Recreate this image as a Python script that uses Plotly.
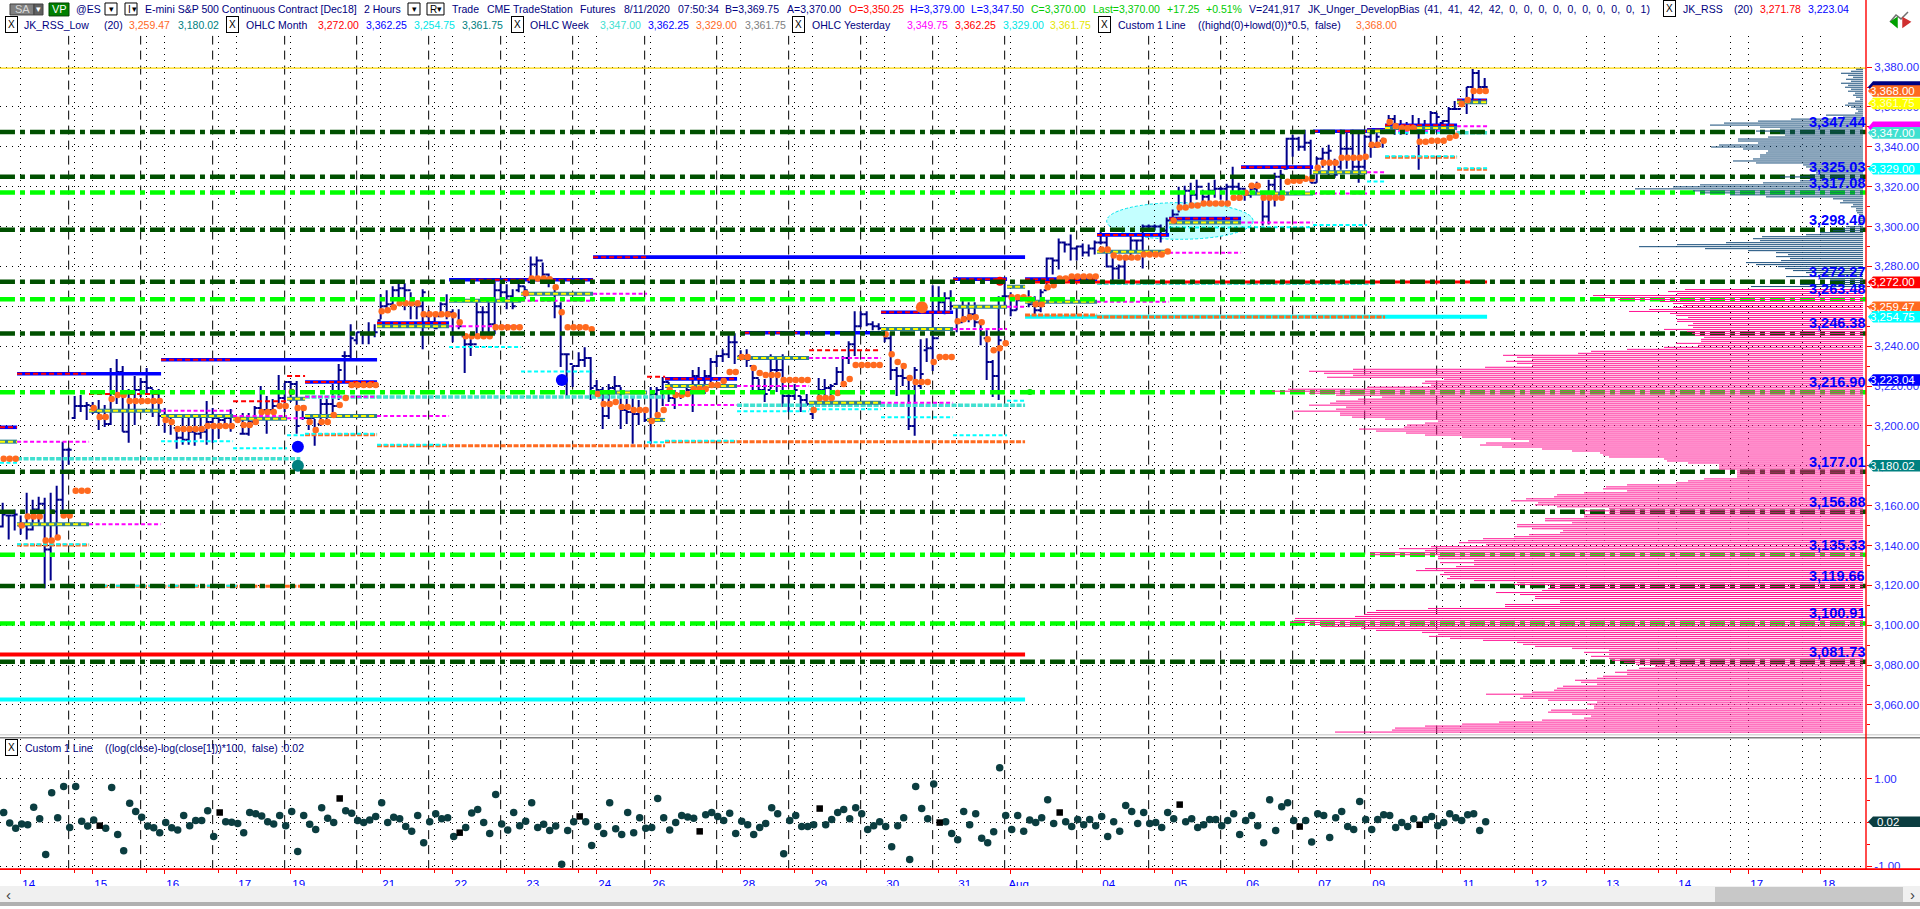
import plotly.graph_objects as go

W, H = 1920, 909
FONT = "Liberation Sans"

highs = [3161.5,3155.5,3158,3155,3166.5,3163,3164.5,3164,3166.5,3170,
 3192,3189,3215,3215.5,3212,3212,3213,3210.5,3229,3233.5,
 3230,3218.5,3225,3224,3229,3218.5,3218.5,3209,3204,3199.5,
 3204,3204.5,3204.5,3206,3212.5,3209,3206,3205,3208.5,3204.5,
 3206.5,3206.5,3210,3220,3215,3213.5,3225.5,3221.5,3222.5,3222.5,
 3210.5,3204.5,3203.5,3213.5,3213.5,3221,3231,3237.5,3251,3247,
 3247,3252,3251,3266,3268,3270,3271.5,3271.5,3267,3260,
 3268.5,3258,3257,3262,3266,3258.5,3258.5,3245,3243.5,3262,
 3260,3262,3272.5,3272,3271,3268.5,3273.5,3270,3285,3285,
 3282,3276.5,3270,3262,3236,3230,3237,3239.5,3234.5,3223,
 3219.5,3221,3225,3219.5,3213.5,3214.5,3213,3208.5,3219.5,3219.5,
 3224.5,3222,3218,3218,3219.5,3228,3229.5,3228,3234,3235.5,
 3238.5,3245.5,3246.5,3238,3238.5,3229.5,3223.5,3223.5,3236,3233.5,
 3236,3217,3221,3215,3216,3210,3224,3223.5,3221,3229.5,
 3235,3242.5,3257.5,3257.5,3257.5,3252.5,3251.5,3248,3247,3229.5,
 3230,3225,3229.5,3243.5,3244,3270.5,3270,3267,3268,3260,
 3263,3262,3262,3253,3248,3233,3265,3273.5,3267,3265,
 3265,3268,3265,3268.5,3284.5,3284.5,3294,3292.5,3296,3290,
 3291.5,3291,3293,3298,3295,3284.5,3281,3284.5,3295,3293.5,
 3301,3301,3301,3301,3304.5,3308.5,3320,3320.5,3322,3323.5,
 3318.5,3322,3323.5,3320,3321.5,3330,3322,3319.5,3319.5,3322.5,
 3317,3323.5,3327,3328.5,3344.5,3346,3345,3348.5,3343.5,3335,
 3339.5,3341,3334,3348.5,3347,3348.5,3347,3346,3347,3348,
 3344.5,3356,3356,3353.5,3352.5,3356,3354.5,3353.5,3358,3357,
 3353.5,3360,3363,3363.5,3370,3379,3378.5,3374.5]

lows = [3149,3143,3147.5,3145.5,3143,3147.5,3151,3118.5,3122.5,3144.5,
 3156,3180.5,3203.5,3207,3203,3206,3198,3199.5,3200.5,3211,
 3197,3191.5,3200.5,3214.5,3216,3204.5,3200,3196.5,3195.5,3188.5,
 3190.5,3190.5,3190,3193.5,3190.5,3191.5,3193.5,3200,3197,3202,
 3195.5,3195,3200.5,3204.5,3196,3206,3209.5,3207,3212,3196,
 3203,3198,3190,3200,3203,3207,3213,3222.5,3234,3241,
 3241,3241,3244.5,3253.5,3257,3260,3262,3258,3253.5,3253.5,
 3238.5,3250,3248.5,3255,3253.5,3242,3248.5,3226.5,3235,3244.5,
 3244.5,3247,3246,3263.5,3258.5,3258.5,3267,3263.5,3272,3273.5,
 3273.5,3269.5,3254,3229.5,3215,3219.5,3229.5,3229.5,3213,3214.5,
 3198.5,3203.5,3217,3198.5,3201,3191,3200.5,3202,3191,3203.5,
 3210,3212,3208.5,3213.5,3216,3207,3217,3216,3222,3229.5,
 3232,3234,3231,3233,3229.5,3217,3216,3212,3218.5,3217,
 3209.5,3207,3213,3207,3210,3203.5,3210,3214.5,3215.5,3220.5,
 3219.5,3231,3235,3249.5,3250,3248,3248,3242,3223,3215,
 3220,3198,3195,3218.5,3232,3227.5,3257,3256,3258,3247,
 3252,3252,3249.5,3240.5,3223,3214.5,3213,3260,3255,3258,
 3263,3259.5,3254.5,3257,3268.5,3276,3278.5,3287,3283,3283,
 3285,3285,3286,3291,3279.5,3273,3273.5,3271,3284.5,3287.5,
 3279,3298.5,3298,3292,3295,3303,3307,3311,3311,3313.5,
 3311,3311,3314.5,3313.5,3312,3317.5,3313,3313,3314.5,3317,
 3300.5,3301,3310,3315,3328.5,3335,3338,3338,3322,3322,
 3329.5,3325,3324.5,3328.5,3329,3328,3322,3328.5,3334.5,3339.5,
 3339.5,3348,3346,3346,3346,3348,3328.5,3348,3351,3347,
 3349.5,3351,3358.5,3360,3356.5,3363,3369.5,3368]

opens = [3149.5,3155,3155,3150,3150,3148,3158,3161,3138,3157,
 3163,3188,3204,3210,3210,3210,3207,3204,3201,3226,
 3227,3197,3217,3218,3222,3219,3212,3205,3205,3199,
 3194,3193,3197,3196,3197,3202,3204,3203,3204,3205,
 3196,3196,3202,3209,3208,3208,3210,3214,3222,3221,
 3204,3204,3204,3201,3211,3211,3210,3235,3235,3243,
 3247,3246,3246,3253,3260,3261,3268,3269,3268,3261,
 3260,3255,3252,3255,3261,3257,3246,3245,3241,3241,
 3257,3257,3251,3268,3267,3265,3268,3270,3272,3281,
 3283,3276,3272,3260,3236,3231,3230,3233,3234,3220,
 3218,3205,3219,3220,3208,3207,3206,3208,3203,3216,
 3218,3222,3214,3216,3216,3218,3225,3223,3225,3232,
 3235,3236,3242,3235,3235,3230,3224,3218,3218,3228,
 3228,3215,3215,3215,3213,3206,3210,3218,3219,3221,
 3227,3234,3241,3250,3256,3251,3250,3246,3244,3228,
 3225,3224,3200,3220,3238,3239,3244,3262,3264,3260,
 3252,3254,3256,3252,3244,3232,3225,3265,3265,3258,
 3263,3264,3261,3258,3268,3284,3283,3292,3291,3289,
 3290,3287,3289,3292,3292,3280,3279,3280,3284,3293,
 3293,3300,3300,3300,3298,3303,3306,3317,3318,3316,
 3320,3315,3318,3319,3319,3320,3320,3319,3316,3319,
 3317,3305,3321,3325,3329,3344,3344,3340,3342,3322,
 3334,3337,3332,3330,3339,3339,3330,3330,3345,3340,
 3343,3348,3354,3350,3350,3351,3349,3348,3350,3357,
 3352,3353,3359,3359,3362,3370,3377,3370]

closes = [3155.5,3155,3155.5,3150,3148,3158,3161,3138,3157.5,3163,
 3188,3188,3210,3210,3210.5,3207,3204,3201,3226,3227,
 3197,3217,3218,3222,3219,3212,3205,3205,3202,3194,
 3193,3197,3196,3197,3202,3204,3203,3204,3205,3203,
 3196,3202,3209,3208,3208,3210,3214,3222,3221,3200,
 3204,3204,3199,3211,3211,3210,3228,3235,3244,3247,
 3246,3246,3247,3260,3261,3268,3269,3268,3261,3260,
 3267,3252,3249,3261,3257,3246,3250,3241,3241,3257,
 3257,3251,3268,3267,3265,3260,3270,3268,3281,3283,
 3276,3272,3260,3236,3236,3230,3233,3234,3219,3218,
 3205,3219,3220,3208,3207,3206,3208,3203,3216,3218,
 3222,3214,3216,3216,3218,3225,3223,3225,3232,3235,
 3236,3242,3242,3235,3233,3224,3218,3216,3228,3228,
 3215,3215,3218,3213,3211,3208,3218,3219,3220,3227,
 3234,3241,3250,3256,3251,3250,3249,3244,3228,3225,
 3224,3200,3228,3226,3239,3244,3262,3264,3260,3252,
 3254.5,3256,3252,3246,3232,3225,3243,3265,3258,3263,
 3264,3261,3258,3267,3284,3283,3292,3291,3289,3290,
 3287,3289,3292,3292,3280,3279,3280,3284,3293,3293,
 3300,3300,3300,3298,3303,3306,3317,3318,3316,3320,
 3315,3318,3319,3319,3320,3320,3319,3316,3319,3320,
 3305,3321,3325,3326,3344,3344,3340,3342,3322,3334,
 3337,3338,3326,3339,3339,3330,3330,3345,3340,3345,
 3343,3354,3350,3350,3351,3349,3348,3350,3357,3355,
 3353,3359,3359,3362,3370,3377,3370,3370]

day_mid = [3183.5,3183.5,3183.5,3150,3154.5,3154.5,3154.5,3142.5,3142.5,3144,
 3155,3155,3167.5,3167.5,3167.5,3209,3204.5,3204.5,3213.5,3215.5,
 3215.5,3212.5,3212.5,3212.5,3212.5,3212.5,3212.5,3203,3202,3198.5,
 3198.5,3198.5,3198.5,3198.5,3200,3200,3200,3200,3200,3203,
 3200.5,3200.5,3202,3207,3207,3207,3210,3210,3217,3209,
 3209,3202,3198,3202,3202,3205.5,3210.5,3214,3220.5,3220.5,
 3220.5,3220.5,3220.5,3257.5,3258,3259.5,3261.5,3261.5,3261.5,3261.5,
 3256,3256,3256,3256,3256,3255.5,3252,3245,3245,3245,
 3245,3245,3249.5,3249.5,3249.5,3249.5,3249.5,3266.5,3274,3274,
 3274,3273.5,3269.5,3257,3249.5,3249.5,3249.5,3249.5,3248.5,3216,
 3211,3211,3212,3209.5,3209.5,3208,3208,3208,3202.5,3205.5,
 3208,3218,3215.5,3215.5,3216,3218.5,3218.5,3218.5,3220.5,3220.5,
 3222.5,3227,3227,3234.5,3234.5,3229,3226.5,3225.5,3225.5,3225.5,
 3223,3223,3223,3223,3223,3208,3214,3214,3214,3216.5,
 3221,3223.5,3230.5,3230.5,3230.5,3230.5,3230.5,3246,3236,3232,
 3230,3224,3222,3222,3222,3232,3234.5,3234.5,3234.5,3252.5,
 3253.5,3254.5,3254.5,3252,3243.5,3238,3239,3241.5,3264.5,3264.5,
 3264.5,3263.5,3261,3261,3269.5,3270.5,3274,3274,3275,3275,
 3275,3275,3275,3288.5,3288.5,3285.5,3284.5,3284.5,3284.5,3284.5,
 3286,3286,3286,3286,3287.5,3303,3309.5,3309.5,3310.5,3310.5,
 3311.5,3311.5,3311.5,3311.5,3311.5,3314.5,3314.5,3317,3320.5,3320.5,
 3314.5,3314.5,3314.5,3314.5,3322.5,3323,3323,3324,3324,3329.5,
 3332,3332,3332,3334.5,3334.5,3334.5,3334.5,3335,3341,3341,
 3343,3352.5,3350.5,3349.5,3349.5,3349.5,3342.5,3342.5,3343,3343,
 3343,3344.5,3345.5,3361.5,3363.5,3368,3368,3368]

log_change = [.23,-.01,-.13,-.03,-.05,.35,.09,-.73,.68,.11,
 .82,-.11,.82,.03,-.08,.06,-.07,-.13,.80,-.27,
 -.64,.44,.25,.12,-.08,-.12,-.23,0,-.12,-.17,
 .16,-.07,.05,.05,.27,-.32,.23,.02,.01,-.02,
 -.23,.23,.20,.15,.02,-.03,.16,-.07,.25,-.66,
 .16,-.04,-.16,.34,.10,0,.55,.27,.21,.05,
 0,.06,.14,.45,0,.12,.09,-.09,-.20,.16,
 -.46,.02,.20,.09,.11,-.32,-.23,-.11,.22,.30,
 0,-.25,.64,-.03,-.17,.23,-.07,.03,.45,-.11,
 -.04,-.18,-.08,-.95,-.18,.02,.14,.02,-.52,-.09,
 -.25,.45,-.14,-.27,.23,-.23,.11,-.13,-.11,.55,
 .11,-.17,0,.16,.13,.10,-.20,.18,.23,.14,
 .05,.21,-.25,.03,-.05,-.27,-.11,-.02,.34,.20,
 -.71,.05,.16,-.09,-.09,-.05,.32,-.05,.07,.23,
 .30,.09,.34,.20,-.16,-.07,.02,-.09,-.55,-.07,
 .11,-.84,.82,.32,.09,.88,0,.02,-.25,-.39,
 .25,-.05,.20,-.36,-.46,-.21,1.25,.16,-.16,.16,
 -.20,.06,0,.11,.52,-.02,.23,.02,-.09,.07,
 -.05,.07,-.07,.14,-.32,.02,-.20,.39,.25,-.02,
 .23,-.02,0,-.11,.23,.09,.41,.02,.09,-.11,
 -.05,.07,.07,-.07,.05,.20,-.27,.05,.16,-.07,
 -.46,.52,-.18,.36,.45,.05,-.09,.05,-.44,.20,
 .16,-.34,.11,.25,-.09,-.16,.48,.07,-.16,.07,
 .18,.16,-.11,0,-.09,.09,-.05,.07,.14,-.07,
 0,.20,.11,.05,.18,.20,-.18,.02]
square_bars = [16,36,56,76,96,116,136,156,176,196,216,236]

profile_blue_top = 3378.9
profile_blue = [7,12,22,15,10,17,12,22,15,18,12,15,8,10,7,3,8,15,18,12,7,5,8,
 37,20,72,105,139,153,103,83,107,83,78,95,125,125,105,144,152,120,95,97,103,103,110,
 130,107,60,57,53,50,47,53,83,53,63,100,163,190,228,170,163,133,97,30,20,23,10,12,
 7,7,6,4,4,4,4,3,5,17,20,30,43,57,101,110,103,137,186,224,158,115,87,75,87,73,82,
 117,107,85,78,70,57,43,77,43,33,20,63,112]
profile_pink_top = 3268.4
profile_pink = [178,195,186,270,263,245,203,190,180,
 190,214,234,193,187,175,186,186,170,175,170,199,176,171,168,159,162,162,187,165,
 199,236,272,285,360,346,331,357,346,331,378,510,554,539,510,536,419,438,441,432,
 496,575,591,554,527,481,505,527,533,554,517,527,569,523,523,511,478,425,438,456,
 459,504,487,457,438,401,352,334,377,383,361,321,291,263,260,254,199,196,175,144,
 144,144,126,126,126,126,159,175,187,236,257,260,236,279,306,309,337,352,325,328,
 306,254,279,254,279,279,318,318,291,346,346,331,300,303,334,349,380,395,404,377,
 432,464,438,493,493,425,425,389,423,389,407,438,447,419,423,413,416,389,346,349,
 312,315,321,367,343,328,
 328,303,303,358,358,435,487,496,499,508,568,569,573,554,542,502,487,441,425,434,
 413,380,346,340,328,291,254,279,254,272,254,251,239,227,208,224,236,248,236,260,
 266,288,282,266,300,306,309,331,377,340,343,315,266,276,269,269,312,315,291,272,
 279,321,364,401,438,468,471,528]

level_dark = [3347.44,3325.03,3298.40,3272.27,3246.38,3177.01,3156.88,3119.66,3081.73]
level_lime = [3317.08,3263.48,3216.90,3135.33,3100.91]

day_ticks = [3,15,27,39,48,63,75,87,99,108,123,135,147,159,168,183,195,207,219,228,243,255,267,279,291,303]
day_labels = ["14","15","16","17","19","21","22","23","24","26","28","29","30","31","Aug","04","05","06","07","09","11","12","13","14","17","18"]
half_ticks = [12,24,36,48,60,72,84,96,108,120,132,144,156,168,180,192,204,216,228,240,252,264,276,288,300]
session_lines = [11,23,35,47,59,71,83,95,107,119,131,143,155,167,179,191,203,215,227,239]

week_high = [(-.45,2.4,3199.3),(2.4,26.4,3226.15),(26.4,62.4,3233.15),(50.4,62.4,3222),(62.4,74.4,3251.65),
 (74.4,98.4,3273.3),(98.4,170.4,3284.65),(110.4,122.4,3223.6),(123.6,146.4,3246.7),(146.4,158.4,3257),
 (158.4,167.4,3273.6),(170.4,182.4,3273.6),(182.4,194.4,3295.8),(194.4,206.4,3304),(206.4,218.4,3329.8),
 (218.4,227.4,3347.8),(227.4,230.4,3348.5),(230.4,242.4,3350.8),(242.4,247.4,3363.3)]
red_marks = [(-.45,2.4,3199.3),(2.4,14.4,3226.15),(26.4,38.4,3233.15),(50.4,62.4,3222),(62.4,74.4,3251.65),
 (78,98.4,3273.3),(98.4,107.4,3284.65),(110.4,122.4,3223.6),(123.6,134.4,3246.7),(146.4,158.4,3257),
 (158.4,167.4,3273.6),(170.4,182.4,3273.6),(182.4,194.4,3295.8),(194.4,206.4,3304),(206.4,218.4,3329.8),
 (218.4,227.4,3347.8),(227.4,230.4,3348.5),(230.4,242.4,3350.8),(242.4,247.4,3363.3),
 (38.4,47.4,3212.3),(47.4,50.4,3225),(107.4,110.4,3224.6),(134.4,146.4,3238),(14.4,26.4,3216)]
close_marks = [(-.45,2.4,3192.1),(2.4,14.4,3150.6),(14.4,26.4,3207.6),(26.4,38.4,3205),(38.4,47.4,3203.6),
 (47.4,50.4,3213.6),(50.4,62.4,3205),(62.4,74.4,3250),(74.4,86.4,3262.8),(86.4,98.4,3266.3),
 (98.4,107.4,3216.8),(107.4,110.4,3203),(110.4,122.4,3220),(122.4,134.4,3234),(134.4,146.4,3211.6),
 (146.4,158.4,3248.6),(158.4,167.4,3259.8),(167.4,170.4,3269.8),(170.4,182.4,3262.3),(182.4,194.4,3287.3),
 (194.4,206.4,3302),(206.4,218.4,3316.6),(218.4,227.4,3327.3),(227.4,230.4,3347.8),(230.4,242.4,3349.5),(242.4,247.4,3362.3)]
magenta_marks = [(2.4,14.4,3192.1),(14.4,26.4,3150.6),(26.4,38.4,3207.6),(38.4,47.4,3205),(47.4,50.4,3203.8),
 (50.4,62.4,3214.6),(62.4,74.4,3205),(74.4,86.4,3250),(86.4,98.4,3262.8),(98.4,107.4,3266.3),
 (110.4,122.4,3210.5),(122.4,134.4,3220),(134.4,146.4,3234),(146.4,158.4,3211.6),(158.4,167.4,3248.6),
 (167.4,170.4,3259.8),(182.4,194.4,3262.3),(194.4,206.4,3286.8),(206.4,218.4,3302),(218.4,227.4,3316.6),
 (227.4,230.4,3327.3),(230.4,242.4,3347.8),(242.4,247.4,3350.3)]
cyan_marks = [(-.45,2.4,3181.5),(2.4,14.4,3140.6),(16.7,39,3119.8),(26.4,38.4,3192.3),(38.4,47.4,3188.8),(47.4,50.4,3195.3),
 (50.4,62.4,3196),(62.4,74.4,3190.5),(74.4,86.4,3239.6),(86.4,98.4,3227.3),(107.4,110.4,3191.8),(110.4,122.4,3192.5),
 (122.4,134.4,3207.3),(134.4,146.4,3208.3),(146.4,158.4,3204.3),(158.4,167.4,3195.3),(167.4,170.4,3212.6),
 (194.4,206.4,3299.5),(206.4,218.4,3299.6),(218.4,227.4,3300.8),(227.4,230.4,3322.6),(230.4,242.4,3335.3),
 (242.4,247.4,3329.3),(230.4,242.4,3347)]
orange_marks = [(2.4,14.4,3140.3),(16.7,49.6,3119.5),(50.4,62.4,3195.5),(62.4,110.4,3190),(110.4,170.4,3192),
 (170.4,182.4,3255.6),(182.4,230.4,3254.6),(230.4,242.4,3334.8),(242.4,247.4,3328.8)]
turquoise_marks = [(2.4,49.6,3183.5),(50.4,110.4,3214.5),(122.4,170.4,3210.3),(182.4,228.9,3271.6),(242.4,247.4,3347)]
thin_red = [(170.4,247.4,3272.2)]
cyan_thick = [(170.4,247.4,3254.75)]
red_long = [(-.45,170.4,3085.3)]
cyan_long = [(-.45,170.4,3062.8)]

event_bars = [49.2,49.2,93.2,153.2,166.2,48.2,171.2]
event_prices = [3189.5,3180,3223,3259.5,3272.5,3217,3217]
event_colors = ["#0000ff","#008080","#0000ff","#ff6a1f","#ff0000","#22bb22","#22bb22"]
event_sizes = [12,12,12,12,9,6,6]

ellipse_bars = [184,208.4]
ellipse_prices = [3293.6,3312]

price_ticks = list(range(3060,3381,20))
price_minor = list(range(3050,3381,10))
price_labels = ["" if p==3260 else f"{p:,.2f}" for p in price_ticks]

tag_values = [(3370,"#000080",""),(3368,"#ff6a1f","3,368.00"),(3361.75,"#ffff00","3,361.75"),(3349.75,"#ff00ff",""),
 (3347,"#40e0d0","3,347.00"),(3329,"#00ffff","3,329.00"),(3272,"#ff0000","3,272.00"),(3259.47,"#ff6a1f","3,259.47"),
 (3254.75,"#00ffff","3,254.75"),(3223.04,"#0000ff","3,223.04"),(3180.02,"#008080","3,180.02")]

NAVY="#000080"
row1 = [("@ES",75,NAVY),("E-mini S&P 500 Continuous Contract [Dec18]",144,NAVY),("2 Hours",363,NAVY),("Trade",451,NAVY),
 ("CME",486,NAVY),("TradeStation",512,NAVY),("Futures",579,NAVY),("8/11/2020",623,NAVY),("07:50:34",677,NAVY),
 ("B=3,369.75",724,NAVY),("A=3,370.00",786,NAVY),("O=3,350.25",848,"#ff0000"),("H=3,379.00",909,"#0000ff"),
 ("L=3,347.50",970,"#0000ff"),("C=3,370.00",1030,"#00cc00"),("Last=3,370.00",1092,"#00cc00"),("+17.25",1166,"#00cc00"),
 ("+0.51%",1205,"#00cc00"),("V=241,917",1248,NAVY),("JK_Unger_DevelopBias",1307,NAVY),
 ("(41,  41,  42,  42,  0,  0,  0,  0,  0,  0,  0,  0,  0,  1)",1423,NAVY),("JK_RSS",1682,NAVY),("(20)",1733,NAVY),
 ("3,271.78",1759,"#ff0000"),("3,223.04",1807,"#0000ff")]
row2 = [("JK_RSS_Low",23,NAVY),("(20)",103,NAVY),("3,259.47",128,"#ff6a1f"),("3,180.02",177,"#008080"),("OHLC Month",245,NAVY),
 ("3,272.00",317,"#ff0000"),("3,362.25",365,"#0000ff"),("3,254.75",413,"#00e5e5"),("3,361.75",461,"#008080"),
 ("OHLC Week",529,NAVY),("3,347.00",599,"#40e0d0"),("3,362.25",647,"#0000ff"),("3,329.00",695,"#ff6a1f"),("3,361.75",744,"#808080"),
 ("OHLC Yesterday",811,NAVY),("3,349.75",906,"#ff00ff"),("3,362.25",954,"#ff0000"),("3,329.00",1002,"#00e5e5"),("3,361.75",1049,"#e5e500"),
 ("Custom 1 Line",1117,NAVY),("((highd(0)+lowd(0))*0.5,  false)",1197,NAVY),("3,368.00",1355,"#ff6a1f")]
row3 = [("Custom 1 Line",24,NAVY),("((log(close)-log(close[1]))*100,  false) :0.02",104,NAVY)]
x_boxes = [(11,25),(232,25),(517,25),(798,25),(1104,25),(1669,9),(11,750)]

assert all(len(a)==248 for a in (highs,lows,opens,closes,day_mid,log_change)), [len(a) for a in (highs,lows,opens,closes,day_mid,log_change)]

# --- helpers
px_x = lambda p: p/W
px_y = lambda p: 1-p/H

def seg_xy(segs):
    xs, ys = [], []
    for a,b,p in segs:
        xs += [a,b,None]; ys += [p,p,None]
    return xs, ys

def seg_trace(segs, color, width, dash=None):
    xs, ys = seg_xy(segs)
    return go.Scatter(x=xs, y=ys, mode="lines", line=dict(color=color,width=width,dash=dash),
                      hoverinfo="skip", showlegend=False, connectgaps=False)

def profile_trace(volumes, top, color):
    xs, ys = [], []
    for k,v in enumerate(volumes):
        xs += [0,v,None]; ys += [top-k,top-k,None]
    return go.Scatter(x=xs, y=ys, xaxis="x2", yaxis="y", mode="lines", line=dict(color=color,width=1),
                      hoverinfo="skip", showlegend=False, connectgaps=False)

fig = go.Figure()

# volume profile
fig.add_trace(profile_trace(profile_pink, profile_pink_top, "#ff1493"))
fig.add_trace(profile_trace(profile_blue, profile_blue_top, "#144a78"))

bar_idx = list(range(len(highs)))

# bottom pieces of the overlay set
fig.add_trace(seg_trace(turquoise_marks,"#40e0d0",3.5,"5px,1.5px"))
fig.add_trace(seg_trace(cyan_thick,"#00ffff",4))
fig.add_trace(seg_trace(thin_red,"#ff0000",3))
fig.add_trace(seg_trace(red_long,"#ff0000",4))
fig.add_trace(seg_trace(cyan_long,"#00ffff",4))

fig.add_trace(go.Ohlc(x=bar_idx, open=opens, high=highs, low=lows, close=closes, tickwidth=0.5,
                      increasing=dict(line=dict(color="#00008b",width=2)),
                      decreasing=dict(line=dict(color="#00008b",width=2)),
                      hoverinfo="skip", showlegend=False))

fig.add_trace(seg_trace(week_high,"#0000ff",3.6))
fig.add_trace(seg_trace(red_marks,"#ff0000",2,"5px,3px"))
fig.add_trace(seg_trace(close_marks,"#2f7f8f",4))
fig.add_trace(seg_trace(close_marks,"#ffff00",2,"5px,3px"))
fig.add_trace(seg_trace(magenta_marks,"#ff00ff",2,"4px,2.5px"))
fig.add_trace(seg_trace(orange_marks,"#ff6a1f",3,"5px,1.5px"))
fig.add_trace(seg_trace(cyan_marks,"#00ffff",2,"4px,2.5px"))

fig.add_trace(go.Scatter(x=[i+0.17 for i in bar_idx], y=day_mid, mode="markers",
                         marker=dict(color="#ff6a1f",size=6.5,line=dict(width=0)), hoverinfo="skip", showlegend=False))
fig.add_trace(go.Scatter(x=event_bars, y=event_prices, mode="markers",
                         marker=dict(color=event_colors,size=event_sizes,opacity=1,line=dict(width=0)), hoverinfo="skip", showlegend=False))

for lvl,col in [(level_dark,"#005000"),(level_lime,"#00ff00")]:
    segs = [(-0.45,310.55,p) for p in lvl]
    fig.add_trace(seg_trace(segs,col,4.5,"15px,5px,5px,5px"))

# yellow session-high line
fig.add_trace(go.Scatter(x=[-0.45,310.55], y=[3379.5,3379.5], mode="lines", line=dict(color="#ffd800",width=1.2),
                         hoverinfo="skip", showlegend=False))

# lower panel
dot_x = [i+0.17 for i in bar_idx if i not in square_bars]
dot_y = [v for i,v in zip(bar_idx,log_change) if i not in square_bars]
fig.add_trace(go.Scatter(x=dot_x, y=dot_y, yaxis="y2", mode="markers",
                         marker=dict(color="#0b3d40",size=7.5,line=dict(width=0)), hoverinfo="skip", showlegend=False))
fig.add_trace(go.Scatter(x=[i+0.17 for i in square_bars], y=[log_change[i] for i in square_bars], yaxis="y2", mode="markers",
                         marker=dict(color="#000000",size=6.5,symbol="square",line=dict(width=0)), hoverinfo="skip", showlegend=False))

AX = 1866/W
shapes = []
# the ellipse behind everything
shapes.append(dict(type="circle",xref="x",yref="y",x0=ellipse_bars[0],x1=ellipse_bars[1],y0=ellipse_prices[0],y1=ellipse_prices[1],
                   fillcolor="#c4ffff",line=dict(color="#00e5ee",width=1,dash="3px,2px"),layer="below"))
for s in session_lines:
    for yr in ("y domain","y2 domain"):
        shapes.append(dict(type="line",xref="x",yref=yr,x0=s,x1=s,y0=0,y1=1,line=dict(color="#000000",width=1,dash="9px,6px"),layer="below"))

def rect(x0,y0,x1,y1,fill,line=None):
    shapes.append(dict(type="rect",xref="paper",yref="paper",x0=px_x(x0),x1=px_x(x1),y0=px_y(y1),y1=px_y(y0),
                       fillcolor=fill,line=dict(color=line or fill,width=1 if line else 0),layer="above"))

# window furniture
rect(0,736.5,W,738,"#d8d8d8")
rect(0,739.5,W,741,"#808080")
rect(0,871.2,W,872.8,"#ff0000")
rect(1865.3,0,1866.7,872,"#ff0000")
rect(0,889,W,905,"#f0f0f0")
rect(1715,890,1903,905,"#c8c8c8")
rect(0,905,W,909,"#b0b0b0")
rect(10,4,34,15,"#808080","#404040")
rect(34,4,43,15,"#606060","#404040")
rect(49,3,69,16,"#008000","#004000")
for x0,x1 in [(105,117),(125,137),(408,420),(427,444)]:
    rect(x0,3,x1,15,"#ffffff","#000000")

# value tags on the price scale
for val,col,_ in tag_values:
    x_tip, x_base, x_end = px_x(1868), px_x(1873), px_x(W)
    shapes.append(dict(type="path",xref="paper",yref="y",fillcolor=col,line=dict(width=0),layer="above",
        path=f"M {x_tip},{val} L {x_base},{val+2.9} L {x_end},{val+2.9} L {x_end},{val-2.9} L {x_base},{val-2.9} Z"))
shapes.append(dict(type="path",xref="paper",yref="y2",fillcolor="#0b3d40",line=dict(width=0),layer="above",
    path=f"M {px_x(1868)},0.02 L {px_x(1873)},0.14 L {px_x(W)},0.14 L {px_x(W)},-0.1 L {px_x(1873)},-0.1 Z"))

# top-right toolbar glyph
for d,c in [("M 1890,22 L 1896,15 L 1901,19 L 1908,12","#707070"),("M 1891,22 L 1897,18 L 1897,27 Z","#00a000"),("M 1910,22 L 1903,18 L 1903,27 Z","#d03030")]:
    pts = d.split()
    out=[]
    for tok in pts:
        if "," in tok:
            a,b = tok.split(",")
            out.append(f"{px_x(float(a))},{px_y(float(b))}")
        else:
            out.append(tok)
    shapes.append(dict(type="path",xref="paper",yref="paper",path=" ".join(out),
                       line=dict(color=c,width=1.5),fillcolor=c if "Z" in d else "rgba(0,0,0,0)",layer="above"))

ann = []
def text(s,x,y,color,size=10.5,anchor="left",bold=False,**kw):
    ann.append(dict(text=f"<b>{s}</b>" if bold else s,x=px_x(x),y=px_y(y),xref="paper",yref="paper",xanchor=anchor,yanchor="middle",
                    showarrow=False,font=dict(family=FONT,size=size,color=color),borderpad=0,**kw))
for s,x,c in row1: text(s,x,9.5,c)
for s,x,c in row2: text(s,x,25.5,c)
for s,x,c in row3: text(s,x,750.5,c)
text("SA",22,9.5,"#d8d8d8",11,"center")
text("VP",59,9.5,"#ffffff",11,"center")
text("▾",38,9.5,"#ffffff",9,"center")
for x,s in [(111,"▾"),(129,"I"),(134,"▾"),(414,"▾"),(433,"R"),(439,"▾")]:
    text(s,x,9.5,"#000000",9 if s=="▾" else 10,"center")
for x,y in x_boxes:
    ann.append(dict(text="X",x=px_x(x),y=px_y(y),xref="paper",yref="paper",xanchor="center",yanchor="middle",showarrow=False,
                    font=dict(family=FONT,size=10,color="#000000"),bordercolor="#000000",borderwidth=1,borderpad=2,bgcolor="#ffffff"))
text("‹",8,897,"#404040",15,"center")
text("›",1912,897,"#404040",15,"center")

# level prices
for p in level_dark+level_lime:
    ann.append(dict(text=f"<b>{p:,.2f}</b>",x=AX,y=p,xref="paper",yref="y",xanchor="right",yanchor="middle",yshift=10,showarrow=False,
                    font=dict(family=FONT,size=14.5,color="#0000ff"),borderpad=0))
# tag text
for val,col,label in tag_values:
    if label:
        tc = "#ffffcc" if col=="#ffff00" else "#ffffff"
        ann.append(dict(text=label,x=px_x(1916),y=val,xref="paper",yref="y",xanchor="right",yanchor="middle",showarrow=False,
                        font=dict(family=FONT,size=11.5,color=tc),borderpad=0))
ann.append(dict(text="0.02",x=px_x(1876),y=0.02,xref="paper",yref="y2",xanchor="left",yanchor="middle",showarrow=False,
                font=dict(family=FONT,size=11.5,color="#ffffff"),borderpad=0))

grid = dict(griddash="1px,5px",gridcolor="#000000",gridwidth=1,showgrid=True)
fig.update_layout(
    width=W,height=H,autosize=False,margin=dict(l=0,r=0,t=0,b=0),paper_bgcolor="#ffffff",plot_bgcolor="#ffffff",
    showlegend=False,hovermode=False,dragmode=False,
    font=dict(family=FONT,size=11),
    shapes=shapes,annotations=ann,
    xaxis=dict(domain=[0,AX],range=[-0.445,310.555],anchor="y2",rangeslider=dict(visible=False),fixedrange=True,
               tickmode="array",tickvals=day_ticks,ticktext=day_labels,ticks="outside",ticklen=4,tickcolor="#ff0000",tickwidth=1,
               tickfont=dict(family=FONT,size=11.5,color="#0000ff"),ticklabelshift=8,zeroline=False,showline=False,
               minor=dict(tickvals=half_ticks,ticks="outside",ticklen=3,tickcolor="#ff0000",tickwidth=1,showgrid=True,
                          griddash="1px,5px",gridcolor="#000000",gridwidth=1),**grid),
    xaxis2=dict(domain=[0,AX],range=[1863,-3],anchor="y",overlaying="x",visible=False,fixedrange=True),
    yaxis=dict(domain=[px_y(737),px_y(36)],range=[3045.15,3395.65],anchor="x",side="right",fixedrange=True,
               tickmode="array",tickvals=price_ticks,ticktext=price_labels,ticks="outside",ticklen=5,tickcolor="#ff0000",tickwidth=1,
               tickfont=dict(family=FONT,size=11.5,color="#2a2aff"),zeroline=False,showline=False,
               minor=dict(tickvals=price_minor,ticks="outside",ticklen=3,tickcolor="#ff0000",tickwidth=1),**grid),
    yaxis2=dict(domain=[px_y(872),px_y(741)],range=[-1.061,1.916],anchor="x",side="right",fixedrange=True,
                tickmode="array",tickvals=[-1,0,1],ticktext=["-1.00","0.00","1.00"],ticks="outside",ticklen=5,tickcolor="#ff0000",tickwidth=1,
                tickfont=dict(family=FONT,size=11.5,color="#2a2aff"),zeroline=False,showline=False,
                minor=dict(tickvals=[-.5,.5],ticks="outside",ticklen=3,tickcolor="#ff0000",tickwidth=1),**grid),
)

fig.write_html("out.html",config={"displayModeBar":False},post_script="document.body.style.margin='0';document.body.style.overflow='hidden';")
